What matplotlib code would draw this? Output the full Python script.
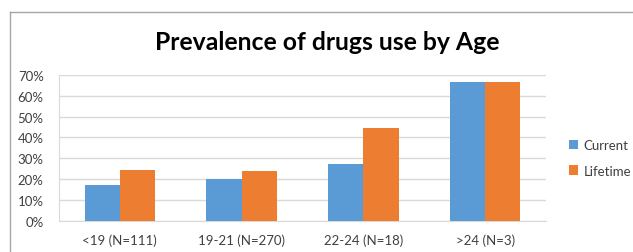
import matplotlib.pyplot as plt
from matplotlib.lines import Line2D
from matplotlib.patches import Patch
import numpy as np

# Данные
categories = ['<19 (N=111)', '19-21 (N=270)', '22-24 (N=18)', '>24 (N=3)']
current = [0.17, 0.20, 0.275, 0.665]
lifetime = [0.242, 0.238, 0.443, 0.665]
series_names = ['Current', 'Lifetime']
yticks = [0, 0.1, 0.2, 0.3, 0.4, 0.5, 0.6, 0.7]

BLUE = '#5B9BD5'
ORANGE = '#ED7D31'
GRID = '#d9d9d9'
BORDER = '#a6a6a6'

plt.rcParams['font.family'] = ['Lato', 'DejaVu Sans']

fig = plt.figure(figsize=(6.33, 2.53), dpi=100)
ax = fig.add_axes([59 / 633, 1 - 222 / 253, 487 / 633, (222 - 75.7) / 253])

x = np.arange(len(categories))
w = 0.29
ax.bar(x - w / 2, current, w, color=BLUE, zorder=3)
ax.bar(x + w / 2, lifetime, w, color=ORANGE, zorder=3)

ax.set_xlim(-0.5, len(categories) - 0.5)
ax.set_ylim(0, 0.7)
ax.set_yticks(yticks)
ax.set_yticklabels([f'{int(round(v * 100))}%' for v in yticks])
ax.set_xticks(x)
ax.set_xticklabels(categories)
ax.tick_params(axis='both', length=0, labelsize=9.5, colors='#404040')
ax.tick_params(axis='y', pad=11)
ax.tick_params(axis='x', pad=9)
ax.grid(axis='y', color=GRID, linewidth=1, zorder=0)

for s in ['top', 'right']:
    ax.spines[s].set_visible(False)
ax.spines['left'].set_color(GRID)
ax.spines['bottom'].set_color(GRID)

# Заголовок
fig.text(327.5 / 633, 1 - 42 / 253, 'Prevalence of drugs use by Age',
         ha='center', va='center', fontsize=17.8, fontweight='bold', color='black')

# Легенда
handles = [Patch(facecolor=BLUE), Patch(facecolor=ORANGE)]
fig.legend(handles, series_names, loc='center left',
           bbox_to_anchor=(569 / 633, 1 - 159 / 253), frameon=False,
           borderpad=0, borderaxespad=0,
           fontsize=9.5, handlelength=0.7, handleheight=0.7,
           handletextpad=0.4, labelspacing=1.0, labelcolor='#404040')

# Рамка диаграммы
fig.add_artist(Line2D([10 / 633, 10 / 633], [0, 1 - 13 / 253],
                      transform=fig.transFigure, color=BORDER, linewidth=1))
fig.add_artist(Line2D([10 / 633, 1], [1 - 13 / 253, 1 - 13 / 253],
                      transform=fig.transFigure, color=BORDER, linewidth=1))

fig.savefig('out.png', dpi=100)
